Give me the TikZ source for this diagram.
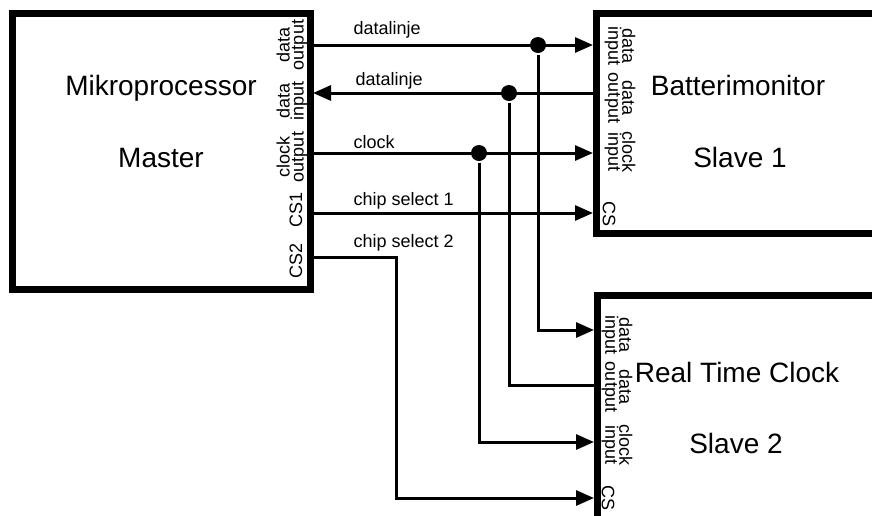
\documentclass[tikz,border=0pt]{standalone}
\usepackage{fontspec}
\setmainfont{Liberation Sans}
\usetikzlibrary{arrows.meta}

\begin{document}
\begin{tikzpicture}[x=1pt, y=-1pt, >={Triangle[length=18pt, width=15pt]}, line width=3pt,
  boks/.style={draw, rectangle, line width=7pt, inner sep=0pt},
  navn/.style={font=\fontsize{28}{30}\selectfont},
  pin/.style={font=\fontsize{18}{14}\selectfont, align=center, inner sep=0pt},
  etiket/.style={font=\fontsize{18}{20}\selectfont, anchor=base west, inner sep=0pt},
  prik/.style={circle, fill, inner sep=0pt, minimum size=16pt}]
  \useasboundingbox (0,0) rectangle (872,515);
  \clip (0,0) rectangle (872,515);
  % kasser (slaverne fortsaetter ud over kanten)
  \node[boks, minimum width=298pt, minimum height=276pt] (master) at (161,151) {};
  \node[boks, minimum width=304pt, minimum height=220pt] (slave1) at (748,123) {};
  \node[boks, minimum width=304pt, minimum height=246pt] (slave2) at (749,418) {};
  \node[navn] (mtitel) at (161,88) {Mikroprocessor};
  \node[navn] (mrolle) at (161,158) {Master};
  \node[navn] (s1titel) at (738,85) {Batterimonitor};
  \node[navn] (s1rolle) at (740,157) {Slave 1};
  \node[navn] (s2titel) at (737,372) {Real Time Clock};
  \node[navn] (s2rolle) at (736,443) {Slave 2};
  % ben paa master
  \node[pin, rotate=90] (mp1) at (292,45) {data\\output};
  \node[pin, rotate=90] (mp2) at (292,101) {data\\input};
  \node[pin, rotate=90] (mp3) at (292,157) {clock\\output};
  \node[pin, rotate=90] (mp4) at (296,210) {CS1};
  \node[pin, rotate=90] (mp5) at (296,261) {CS2};
  % ben paa slaverne
  \node[pin, rotate=-90] (s1p1) at (620,46) {data\\input};
  \node[pin, rotate=-90] (s1p2) at (620,98) {data\\output};
  \node[pin, rotate=-90] (s1p3) at (620,152) {clock\\input};
  \node[pin, rotate=-90] (s1p4) at (609,214) {CS};
  \node[pin, rotate=-90] (s2p1) at (617,335) {data\\input};
  \node[pin, rotate=-90] (s2p2) at (617,387) {data\\output};
  \node[pin, rotate=-90] (s2p3) at (617,445) {clock\\input};
  \node[pin, rotate=-90] (s2p4) at (608,498) {CS};
  % tilslutninger
  \coordinate (m-dout) at (313,45);
  \coordinate (m-din) at (313,93);
  \coordinate (m-clk) at (313,153);
  \coordinate (m-cs1) at (313,213);
  \coordinate (m-cs2) at (313,257);
  \coordinate (s1-din) at (593,45);
  \coordinate (s1-dout) at (593,93);
  \coordinate (s1-clk) at (593,153);
  \coordinate (s1-cs) at (593,213);
  \coordinate (s2-din) at (594,330);
  \coordinate (s2-dout) at (594,385);
  \coordinate (s2-clk) at (594,442);
  \coordinate (s2-cs) at (594,498);
  \coordinate (cs2-knaek) at (396,257);
  \node[prik] (p1) at (538,45) {};
  \node[prik] (p2) at (509,93) {};
  \node[prik] (p3) at (479,153) {};
  % linjer
  \draw[->] (m-dout) -- (s1-din);
  \draw[->] (p1) |- (s2-din);
  \draw[->] (s1-dout) -- (m-din);
  \draw (s2-dout) -| (p2);
  \draw[->] (m-clk) -- (s1-clk);
  \draw[->] (p3) |- (s2-clk);
  \draw[->] (m-cs1) -- (s1-cs);
  \draw[->] (m-cs2) -- (cs2-knaek) |- (s2-cs);
  \node[etiket] (l1) at (352,34) {datalinje};
  \node[etiket] (l2) at (354,85) {datalinje};
  \node[etiket] (l3) at (352,148) {clock};
  \node[etiket] (l4) at (352,205) {chip select 1};
  \node[etiket] (l5) at (352,247) {chip select 2};
\end{tikzpicture}
\end{document}
